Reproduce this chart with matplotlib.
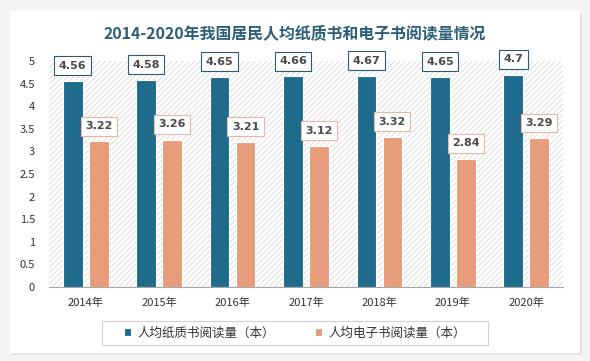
import matplotlib.pyplot as plt
import numpy as np
from matplotlib.patches import Rectangle

plt.rcParams['font.family'] = ['Noto Sans CJK SC', 'DejaVu Sans']
plt.rcParams['hatch.linewidth'] = 0.6

years = ['2014年', '2015年', '2016年', '2017年', '2018年', '2019年', '2020年']
paper = [4.56, 4.58, 4.65, 4.66, 4.67, 4.65, 4.7]
ebook = [3.22, 3.26, 3.21, 3.12, 3.32, 2.84, 3.29]
paper_name = '人均纸质书阅读量（本）'
ebook_name = '人均电子书阅读量（本）'

blue = '#1f6b8c'
orange = '#e79c7c'

fig = plt.figure(figsize=(5.9, 3.61), dpi=100)
fig.patch.set_facecolor('#f4f4f4')
# white card with soft shadow
fig.patches.append(Rectangle((12/590, 1-355/361), 570/590, 342/361, transform=fig.transFigure,
                             facecolor='#e2e2e2', edgecolor='none', zorder=-10))
fig.patches.append(Rectangle((10/590, 1-353/361), 570/590, 342/361, transform=fig.transFigure,
                             facecolor='white', edgecolor='none', zorder=-9))
# legend frame
fig.patches.append(Rectangle((102/590, 1-345/361), 386/590, 24/361, transform=fig.transFigure,
                             facecolor='white', edgecolor='#d0d0d0', linewidth=0.8, zorder=-8))

ax = fig.add_axes([49/590, 1-287/361, 514/590, 226/361])
ax.set_zorder(1)
ax.set_facecolor('none')
ax.add_patch(Rectangle((-0.5, 0), 7, 5, facecolor='white', edgecolor='#dadada', linewidth=0,
                       hatch='//////', zorder=0))

x = np.arange(len(years))
w = 0.27
off = 0.177
ax.bar(x - off, paper, w, color=blue, edgecolor='white', linewidth=0.8, zorder=2, label=paper_name)
ax.bar(x + off, ebook, w, color=orange, edgecolor='white', linewidth=0.8, zorder=2, label=ebook_name)

for xi, v in zip(x, paper):
    ax.annotate(f'{v:g}', (xi - off, v), xytext=(0, 11), textcoords='offset points',
                ha='center', va='center', fontsize=8, fontweight='bold', color='#4a4a4a',
                bbox=dict(boxstyle='square,pad=0.4', facecolor='white', edgecolor='#2d5a70', linewidth=0.8),
                family=['DejaVu Sans'], zorder=3)
for xi, v in zip(x, ebook):
    ax.annotate(f'{v:g}', (xi + off, v), xytext=(0, 11), textcoords='offset points',
                ha='center', va='center', fontsize=8, fontweight='bold', color='#4a4a4a',
                bbox=dict(boxstyle='square,pad=0.4', facecolor='white', edgecolor='#e7b8a6', linewidth=0.8),
                family=['DejaVu Sans'], zorder=3)

ax.set_xlim(-0.5, 6.5)
ax.set_ylim(0, 5)
ax.set_yticks(np.arange(0, 5.01, 0.5))
ax.set_yticklabels([f'{v:g}' for v in np.arange(0, 5.01, 0.5)])
ax.set_xticks(x)
ax.set_xticklabels(years)
ax.tick_params(axis='both', length=0, labelsize=8, colors='#333333')
ax.tick_params(axis='y', pad=10)
ax.tick_params(axis='x', pad=8)
for s in ['top', 'right', 'left']:
    ax.spines[s].set_visible(False)
ax.spines['bottom'].set_color('#a6a6a6')

fig.text(0.5, 1-33/361, '2014-2020年我国居民人均纸质书和电子书阅读量情况', ha='center', va='center',
         fontsize=11.4, fontweight='bold', color='#2b5f78')

leg = fig.legend(loc='center', bbox_to_anchor=(295/590, 1-333/361), ncol=2, fontsize=9,
                 frameon=False, handlelength=0.55, handleheight=0.55,
                 columnspacing=3.2, handletextpad=0.5, borderpad=0.3, borderaxespad=0)
for t in leg.get_texts():
    t.set_color('#333333')

fig.savefig('out.png', dpi=100, facecolor=fig.get_facecolor())
